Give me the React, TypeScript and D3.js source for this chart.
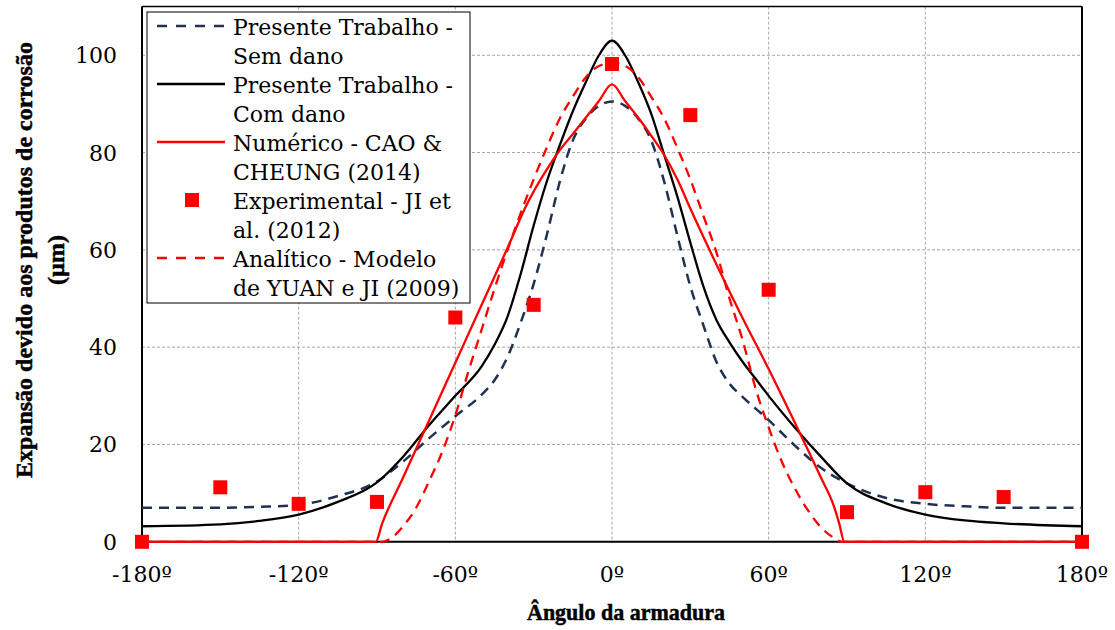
import React from 'react';
import * as d3 from 'd3';

const xTicks = [-180, -120, -60, 0, 60, 120, 180];
const yTicks = [0, 20, 40, 60, 80, 100];
const gridX = [-120, -60, 0, 60, 120];
const gridY = [20, 40, 60, 80, 100];

const navyTheta = [-180, -150, -135, -120, -105, -90, -80, -70, -60, -50, -45, -40, -35, -30, -25, -20, -15, -10, -5, 0, 5, 10, 15, 20, 25, 30, 35, 40, 45, 50, 60, 70, 80, 90, 105, 120, 135, 150, 180];
const navyVal = [7, 7, 7.2, 7.6, 9.4, 12.4, 16.5, 21.3, 25.8, 30.2, 33.2, 38, 45, 53, 63, 74, 82.5, 87, 89.6, 90.5, 89.6, 87, 82.5, 74, 63, 52.5, 44.5, 37, 32.5, 29.8, 25, 19.8, 15.2, 12, 9, 7.8, 7.3, 7, 7];

const blackTheta = [-180, -150, -135, -120, -105, -90, -80, -70, -60, -50, -45, -40, -35, -30, -25, -20, -15, -10, -5, 0, 5, 10, 15, 20, 25, 30, 35, 40, 45, 50, 55, 60, 70, 80, 90, 105, 120, 135, 150, 180];
const blackVal = [3.2, 3.6, 4.3, 5.6, 8.2, 12.2, 17.5, 24, 30, 36, 40.5, 46.3, 55, 65, 74, 81.5, 88.5, 94.5, 100, 103, 100, 94.5, 88, 79.5, 71, 61.5, 52.5, 45.6, 41, 37, 33.5, 30, 23.5, 17.5, 12, 7.9, 5.6, 4.4, 3.8, 3.2];

const numTheta = [-180, -90.5, -88, -80, -70, -60, -50, -40, -33, -30, -25, -20, -15, -10, -5, 0, 5, 10, 15, 20, 25, 30, 40, 50, 60, 70, 80, 85, 87, 89, 180];
const numVal = [0, 0, 3.8, 13.2, 25, 36.8, 48.6, 60.4, 68.9, 72, 76.5, 80.5, 83.8, 87.2, 90.6, 94, 90.6, 87.2, 83.5, 79.5, 74.5, 68.5, 57, 46, 35.5, 24.5, 13.2, 7.3, 3.8, 0, 0];

const anaTheta = [-180, -88, -84, -80, -75, -70, -65, -60, -55, -50, -45, -40, -35, -30, -25, -20, -15, -10, -5, 0, 5, 10, 15, 20, 25, 30, 35, 40, 45, 50, 55, 60, 65, 70, 75, 80, 85, 88, 180];
const anaVal = [0, 0, 1, 3.2, 7, 12.5, 18.5, 26, 35, 43.5, 52, 60, 67.5, 74.5, 81, 87, 91.5, 95.5, 97.8, 98.4, 97.8, 95.5, 91.5, 87, 81, 74.5, 67, 59.5, 50, 41.5, 31.5, 23.5, 16.5, 11, 6.5, 3, 0.8, 0, 0];

const expTheta = [-180, -150, -120, -90, -60, -30, 0, 30, 60, 90, 120, 150, 180];
const expVal = [0, 11.2, 7.8, 8.2, 46.1, 48.7, 98.2, 87.7, 51.8, 6.1, 10.2, 9.2, 0];

const legendLabels = [
  ['Presente Trabalho -', 'Sem dano'],
  ['Presente Trabalho -', 'Com dano'],
  ['Numérico - CAO &', 'CHEUNG (2014)'],
  ['Experimental - JI et', 'al. (2012)'],
  ['Analítico - Modelo', 'de YUAN e JI (2009)'],
];

const NAVY = '#1f3350';
const RED = '#ff0000';
const FONT = '"DejaVu Serif", serif';
const TFONT = '"Liberation Serif", serif';

export default function App() {
  const x = d3.scaleLinear().domain([-180, 180]).range([142, 1082]);
  const y = d3.scaleLinear().domain([0, 110]).range([541.8, 6.6]);
  const line = d3
    .line<[number, number]>()
    .x((d) => x(d[0]))
    .y((d) => y(d[1]))
    .curve(d3.curveMonotoneX);
  const zip = (a: number[], b: number[]) => a.map((t, i) => [t, b[i]] as [number, number]);

  const x0 = x(-180), x1 = x(180), yb = y(0), yt = y(110);
  const sq = 14;

  const lgX = 147, lgY = 12, lgW = 323, lgH = 291;
  const sampleX0 = 157, sampleX1 = 225, textX = 233;
  const base0 = 35, lineGap = 29, entryGap = 58;

  return (
    <svg width={1115} height={630} style={{ position: 'absolute', left: 0, top: 0, background: '#fff' }}>
      <rect x={0} y={0} width={1115} height={630} fill="#fff" />
      {gridY.map((v) => (
        <line key={'gy' + v} x1={x0} x2={x1} y1={y(v)} y2={y(v)} stroke="#a6a6a6" strokeWidth={1} strokeDasharray="3 2" />
      ))}
      {gridX.map((v) => (
        <line key={'gx' + v} x1={x(v)} x2={x(v)} y1={yt} y2={yb} stroke="#a6a6a6" strokeWidth={1} strokeDasharray="3 2" />
      ))}
      <line x1={x0} x2={x1} y1={yt} y2={yt} stroke="#000" strokeWidth={1.5} />
      <line x1={x1} x2={x1} y1={yt} y2={yb} stroke="#000" strokeWidth={2} />
      <line x1={x0} x2={x0} y1={yt} y2={yb + 1} stroke="#000" strokeWidth={2} />
      <line x1={x0} x2={x1} y1={yb} y2={yb} stroke="#000" strokeWidth={2} />

      <path d={line(zip(navyTheta, navyVal)) || ''} fill="none" stroke={NAVY} strokeWidth={2.5} strokeDasharray="10 7" />
      <path d={line(zip(blackTheta, blackVal)) || ''} fill="none" stroke="#000" strokeWidth={2.3} />
      <path d={line(zip(numTheta, numVal)) || ''} fill="none" stroke={RED} strokeWidth={2.3} />
      {expTheta.map((t, i) => (
        <rect key={'e' + i} x={x(t) - sq / 2} y={y(expVal[i]) - sq / 2} width={sq} height={sq} fill={RED} />
      ))}
      <path d={line(zip(anaTheta, anaVal)) || ''} fill="none" stroke={RED} strokeWidth={2.3} strokeDasharray="10 7" />

      {yTicks.map((v) => (
        <text key={'yt' + v} x={117} y={y(v) + 8} textAnchor="end" fontFamily={FONT} fontSize={22} fill="#000">
          {v}
        </text>
      ))}
      {xTicks.map((v) => (
        <text key={'xt' + v} x={x(v)} y={582} textAnchor="middle" fontFamily={FONT} fontSize={22} fill="#000">
          {v + 'º'}
        </text>
      ))}

      <text x={626} y={620} textAnchor="middle" fontFamily={TFONT} fontWeight="bold" fontSize={23} fill="#000" stroke="#000" strokeWidth={0.5} textLength={198} lengthAdjust="spacingAndGlyphs">
        Ângulo da armadura
      </text>
      <g transform="translate(32,260) rotate(-90)">
        <text x={0} y={0} textAnchor="middle" fontFamily={TFONT} fontWeight="bold" fontSize={24} fill="#000" stroke="#000" strokeWidth={0.5}>
          Expansão devido aos produtos de corrosão
        </text>
        <text x={0} y={32} textAnchor="middle" fontFamily={TFONT} fontWeight="bold" fontSize={24} fill="#000" stroke="#000" strokeWidth={0.5}>
          (µm)
        </text>
      </g>

      <rect x={lgX} y={lgY} width={lgW} height={lgH} fill="#fff" stroke="#000" strokeWidth={1} />
      {legendLabels.map((lab, i) => {
        const b = base0 + i * entryGap;
        const sy = b - 9;
        let sample: React.ReactNode = null;
        if (i === 0) sample = <line x1={sampleX0} x2={sampleX1} y1={sy} y2={sy} stroke={NAVY} strokeWidth={2.5} strokeDasharray="10 9" />;
        if (i === 1) sample = <line x1={sampleX0} x2={sampleX1} y1={sy} y2={sy} stroke="#000" strokeWidth={2.3} />;
        if (i === 2) sample = <line x1={sampleX0} x2={sampleX1} y1={sy} y2={sy} stroke={RED} strokeWidth={2.3} />;
        if (i === 3) sample = <rect x={192 - sq / 2} y={sy - sq / 2} width={sq} height={sq} fill={RED} />;
        if (i === 4) sample = <line x1={sampleX0} x2={sampleX1} y1={sy} y2={sy} stroke={RED} strokeWidth={2.3} strokeDasharray="10 9" />;
        return (
          <g key={'lg' + i}>
            {sample}
            <text x={textX} y={b} fontFamily={FONT} fontSize={22} fill="#000">{lab[0]}</text>
            <text x={textX} y={b + lineGap} fontFamily={FONT} fontSize={22} fill="#000">{lab[1]}</text>
          </g>
        );
      })}
    </svg>
  );
}
